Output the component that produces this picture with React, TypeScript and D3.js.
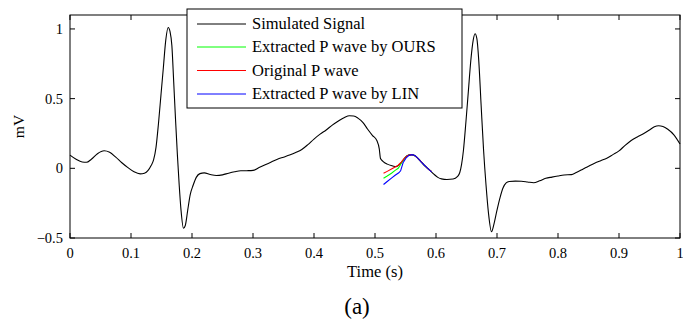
import React from "react";
import * as d3 from "d3";

const signalT = [0.000,0.010,0.020,0.027,0.035,0.045,0.056,0.065,0.075,0.085,0.095,0.105,0.115,0.122,0.128,0.133,0.137,0.141,0.145,0.149,0.153,0.157,0.161,0.164,0.167,0.170,0.173,0.176,0.179,0.182,0.186,0.189,0.193,0.197,0.202,0.207,0.213,0.220,0.230,0.240,0.250,0.260,0.270,0.280,0.290,0.300,0.310,0.320,0.330,0.340,0.350,0.360,0.370,0.380,0.390,0.400,0.410,0.420,0.430,0.440,0.450,0.458,0.465,0.472,0.480,0.488,0.496,0.503,0.507,0.509,0.513,0.520,0.528,0.535,0.540,0.545,0.550,0.555,0.560,0.565,0.570,0.575,0.580,0.585,0.590,0.596,0.603,0.609,0.618,0.628,0.635,0.639,0.642,0.645,0.649,0.653,0.657,0.661,0.664,0.667,0.670,0.674,0.678,0.682,0.686,0.691,0.695,0.700,0.705,0.710,0.715,0.720,0.730,0.740,0.750,0.760,0.770,0.780,0.790,0.800,0.810,0.822,0.830,0.840,0.850,0.860,0.870,0.880,0.890,0.900,0.910,0.920,0.930,0.940,0.950,0.958,0.965,0.972,0.980,0.990,1.000];
const signalV = [0.095,0.065,0.045,0.043,0.065,0.105,0.126,0.115,0.08,0.04,0.005,-0.025,-0.04,-0.035,-0.015,0.02,0.06,0.15,0.32,0.52,0.72,0.92,1.01,0.98,0.88,0.62,0.35,0.1,-0.12,-0.3,-0.43,-0.41,-0.3,-0.19,-0.12,-0.065,-0.038,-0.033,-0.045,-0.052,-0.047,-0.035,-0.025,-0.018,-0.017,-0.015,0.005,0.025,0.045,0.065,0.08,0.095,0.113,0.135,0.17,0.21,0.245,0.275,0.31,0.34,0.365,0.377,0.375,0.36,0.33,0.28,0.235,0.2,0.14,0.07,0.05,0.03,0.018,0.012,0.025,0.05,0.08,0.095,0.098,0.092,0.072,0.05,0.025,0.005,-0.015,-0.04,-0.065,-0.076,-0.08,-0.077,-0.06,-0.03,0.03,0.13,0.33,0.55,0.77,0.92,0.965,0.93,0.78,0.45,0.13,-0.12,-0.32,-0.455,-0.40,-0.3,-0.21,-0.14,-0.105,-0.095,-0.092,-0.093,-0.098,-0.104,-0.09,-0.072,-0.063,-0.055,-0.048,-0.045,-0.03,-0.008,0.015,0.037,0.055,0.072,0.098,0.125,0.165,0.2,0.225,0.248,0.275,0.298,0.305,0.3,0.28,0.24,0.174];

const oursT = [0.514,0.520,0.527,0.533,0.538,0.541,0.545,0.549,0.553,0.558,0.563,0.568,0.573,0.578,0.583,0.588,0.593];
const oursV = [-0.071,-0.055,-0.035,-0.015,0.0,0.02,0.05,0.075,0.09,0.098,0.096,0.082,0.06,0.035,0.012,-0.008,-0.025];

const origT = [0.514,0.520,0.527,0.533,0.538,0.543,0.548,0.553,0.558,0.563,0.568,0.573,0.578,0.583,0.588,0.593];
const origV = [-0.036,-0.022,-0.005,0.01,0.022,0.045,0.072,0.09,0.098,0.096,0.082,0.06,0.035,0.012,-0.008,-0.025];

const linT = [0.514,0.520,0.527,0.533,0.539,0.542,0.546,0.551,0.556,0.561,0.566,0.571,0.576,0.581,0.586,0.593];
const linV = [-0.116,-0.095,-0.07,-0.05,-0.032,-0.018,0.04,0.075,0.093,0.098,0.09,0.07,0.045,0.022,0.002,-0.028];

const xTicks = [0, 0.1, 0.2, 0.3, 0.4, 0.5, 0.6, 0.7, 0.8, 0.9, 1];
const xTickLabels = ["0", "0.1", "0.2", "0.3", "0.4", "0.5", "0.6", "0.7", "0.8", "0.9", "1"];
const yTicks = [-0.5, 0, 0.5, 1];
const yTickLabels = ["\u22120.5", "0", "0.5", "1"];

const legendLabels = ["Simulated Signal", "Extracted P wave by OURS", "Original P wave", "Extracted P wave by LIN"];
const legendColors = ["#000000", "#00ff00", "#ff0000", "#0000ff"];

const FONT = "'Liberation Serif', 'Times New Roman', serif";

export default function App() {
  const left = 70, right = 680, top = 15, bottom = 238;
  const x = d3.scaleLinear().domain([0, 1]).range([left, right]);
  const y = d3.scaleLinear().domain([-0.5, 1.1]).range([bottom, top]);

  const mk = (T: number[], V: number[], curve: any) =>
    d3.line<number>().x((_, i) => x(T[i])).y((v) => y(v)).curve(curve)(V) || "";

  const black = mk(signalT, signalV, d3.curveMonotoneX);
  const series = [
    { d: mk(oursT, oursV, d3.curveLinear), c: legendColors[1] },
    { d: mk(origT, origV, d3.curveLinear), c: legendColors[2] },
    { d: mk(linT, linV, d3.curveLinear), c: legendColors[3] },
  ];

  const tl = 5;
  const lgX = 187, lgY = 9, lgW = 275, lgH = 99;
  const rowY = [24, 47, 70.5, 94];

  return (
    <svg width={683} height={320} style={{ position: "absolute", left: 0, top: 0, background: "#fff" }} fontFamily={FONT}>
      <rect x={0} y={0} width={683} height={320} fill="#fff" />
      <path d={black} fill="none" stroke="#000" strokeWidth={1.1} />
      {series.map((s, i) => (
        <path key={i} d={s.d} fill="none" stroke={s.c} strokeWidth={1.1} />
      ))}
      <rect x={left} y={top} width={right - left} height={bottom - top} fill="none" stroke="#000" strokeWidth={1} />
      {xTicks.map((t, i) => (
        <g key={"x" + i}>
          <line x1={x(t)} x2={x(t)} y1={bottom} y2={bottom - tl} stroke="#000" />
          <line x1={x(t)} x2={x(t)} y1={top} y2={top + tl} stroke="#000" />
          <text x={x(t)} y={258} fontSize={14.5} textAnchor="middle" fill="#000">{xTickLabels[i]}</text>
        </g>
      ))}
      {yTicks.map((t, i) => (
        <g key={"y" + i}>
          <line x1={left} x2={left + tl} y1={y(t)} y2={y(t)} stroke="#000" />
          <line x1={right} x2={right - tl} y1={y(t)} y2={y(t)} stroke="#000" />
          <text x={63} y={y(t) + 5} fontSize={14.5} textAnchor="end" fill="#000">{yTickLabels[i]}</text>
        </g>
      ))}
      <text x={(left + right) / 2} y={277} fontSize={16.5} textAnchor="middle" fill="#000">Time (s)</text>
      <text transform={`translate(24,${(top + bottom) / 2}) rotate(-90)`} fontSize={15.5} textAnchor="middle" fill="#000">mV</text>
      <text x={357} y={314} fontSize={23} textAnchor="middle" fill="#000">(a)</text>
      <rect x={lgX} y={lgY} width={lgW} height={lgH} fill="#fff" stroke="#000" strokeWidth={1} />
      {legendLabels.map((l, i) => (
        <g key={"l" + i}>
          <line x1={197} x2={246} y1={rowY[i]} y2={rowY[i]} stroke={legendColors[i]} strokeWidth={1} />
          <text x={252} y={rowY[i] + 5} fontSize={16.5} fill="#000">{l}</text>
        </g>
      ))}
    </svg>
  );
}
